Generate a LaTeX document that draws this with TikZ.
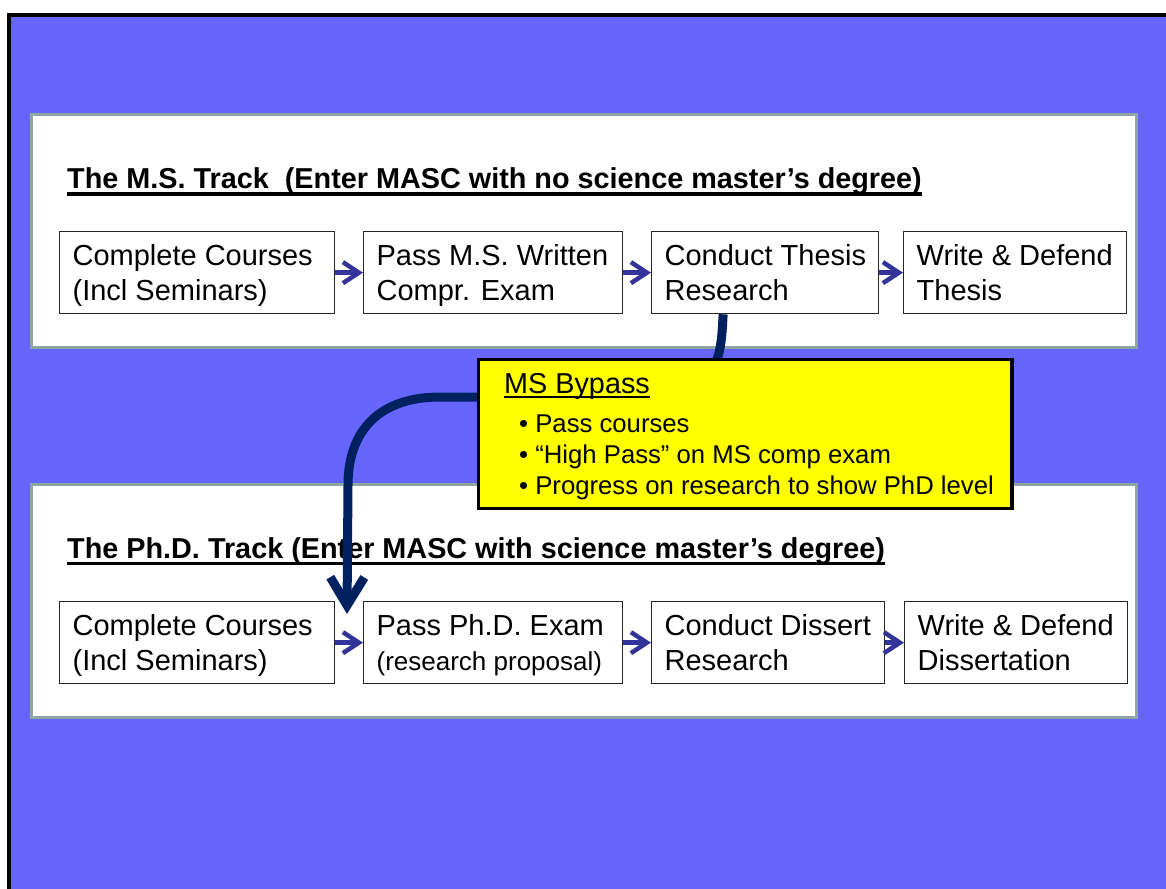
\documentclass[tikz,border=0pt]{standalone}
\usepackage{fontspec}
\setmainfont{Liberation Sans}
\usetikzlibrary{arrows.meta,calc}
\definecolor{bgblue}{RGB}{102,102,255}
\definecolor{panelgray}{RGB}{140,165,165}
\definecolor{curvenavy}{RGB}{0,32,96}
\definecolor{arrowblue}{RGB}{51,51,153}
\definecolor{bpyellow}{RGB}{255,255,0}
\newcommand\bxtext[3]{\parbox[t][82pt][t]{#1}{\leftskip=13pt\parindent=0pt\fontsize{29}{35}\selectfont\rule{0pt}{34pt}#2\\#3}}
\tikzset{
  frame/.style={line width=4pt, draw=black, fill=bgblue},
  panel/.style={line width=3pt, draw=panelgray, fill=white},
  stepbox/.style={draw=black!85, line width=1.3pt, fill=white, inner sep=0pt, anchor=north west},
  smallarrow/.style={draw=arrowblue, line width=4.5pt, -{Straight Barb[length=16pt,width=21pt]}},
  titletext/.style={anchor=base west, inner sep=0pt, font=\fontsize{28.8}{35}\selectfont\bfseries},
  uline/.style={line width=3.2pt},
  curve/.style={draw=curvenavy, line width=9pt, -{Straight Barb[length=28pt,width=34pt]}},
  bypassbox/.style={draw=black, line width=3.5pt, fill=bpyellow, anchor=north west, inner sep=0pt, minimum width=533.5pt, minimum height=149pt},
  bphead/.style={anchor=base west, inner sep=0pt, font=\fontsize{28.8}{35}\selectfont},
  bpitem/.style={anchor=base west, inner sep=0pt, font=\fontsize{25.7}{31}\selectfont},
}
\begin{document}
\begin{tikzpicture}[x=1pt,y=-1pt]
\useasboundingbox (0,0) rectangle (1166,888);
\draw[frame] (9.2,15.3) rectangle (1200,920);
% panels
\draw[panel] (31,114.5) rectangle (1136,347.5);
\draw[panel] (31,484) rectangle (1136,717);
% titles
\node[titletext] (mstitle) at (67,188.5) {The M.S. Track\ \ (Enter MASC with no science master’s degree)};
\draw[uline] ([yshift=-5.5pt]mstitle.base west) -- ([yshift=-5.5pt]mstitle.base east);
\node[titletext] (phdtitle) at (67,558) {The Ph.D. Track (Enter MASC with science master’s degree)};
\draw[uline] ([yshift=-5.5pt]phdtitle.base west) -- ([yshift=-5.5pt]phdtitle.base east);
% MS boxes
\node[stepbox] (ms1) at (59,231) {\bxtext{275pt}{Complete Courses}{(Incl Seminars)}};
\node[stepbox] (ms2) at (363,231) {\bxtext{259pt}{Pass M.S. Written}{Compr. Exam}};
\node[stepbox] (ms3) at (651,231) {\bxtext{227pt}{Conduct Thesis}{Research}};
\node[stepbox] (ms4) at (903,231) {\bxtext{223pt}{Write \& Defend}{Thesis}};
% PhD boxes
\node[stepbox] (phd1) at (59,601) {\bxtext{275pt}{Complete Courses}{(Incl Seminars)}};
\node[stepbox] (phd2) at (363,601) {\bxtext{259pt}{Pass Ph.D. Exam}{{\fontsize{26}{35}\selectfont (research proposal)}}};
\node[stepbox] (phd3) at (651,601) {\bxtext{233pt}{Conduct Dissert}{Research}};
\node[stepbox] (phd4) at (904,601) {\bxtext{223pt}{Write \& Defend}{Dissertation}};
% small arrows
\draw[smallarrow] (ms1.east) -- (ms2.west);
\draw[smallarrow] (ms2.east) -- (ms3.west);
\draw[smallarrow] (ms3.east) -- (ms4.west);
\draw[smallarrow] (phd1.east) -- (phd2.west);
\draw[smallarrow] (phd2.east) -- (phd3.west);
\draw[smallarrow] (phd3.east) -- (phd4.west);
% bypass curve
\coordinate (tip) at (347,614);
\draw[curve] ([xshift=-42pt]ms3.south) .. controls (721,350) and (722,397) .. (650,397)
  -- (440,397) .. controls (380,397) and (348,430) .. (348,485) -- (tip);
% bypass box
\node[bypassbox] (bp) at (476.5,357.5) {};
\node[bphead] (bph) at (504,393) {MS Bypass};
\draw[line width=2pt] ([yshift=-4pt]bph.base west) -- ([yshift=-4pt]bph.base east);
\node[bpitem] (bp1) at (519,432) {• Pass courses};
\node[bpitem] (bp2) at (519,463) {• “High Pass” on MS comp exam};
\node[bpitem] (bp3) at (519,494) {• Progress on research to show PhD level};
\end{tikzpicture}
\end{document}
